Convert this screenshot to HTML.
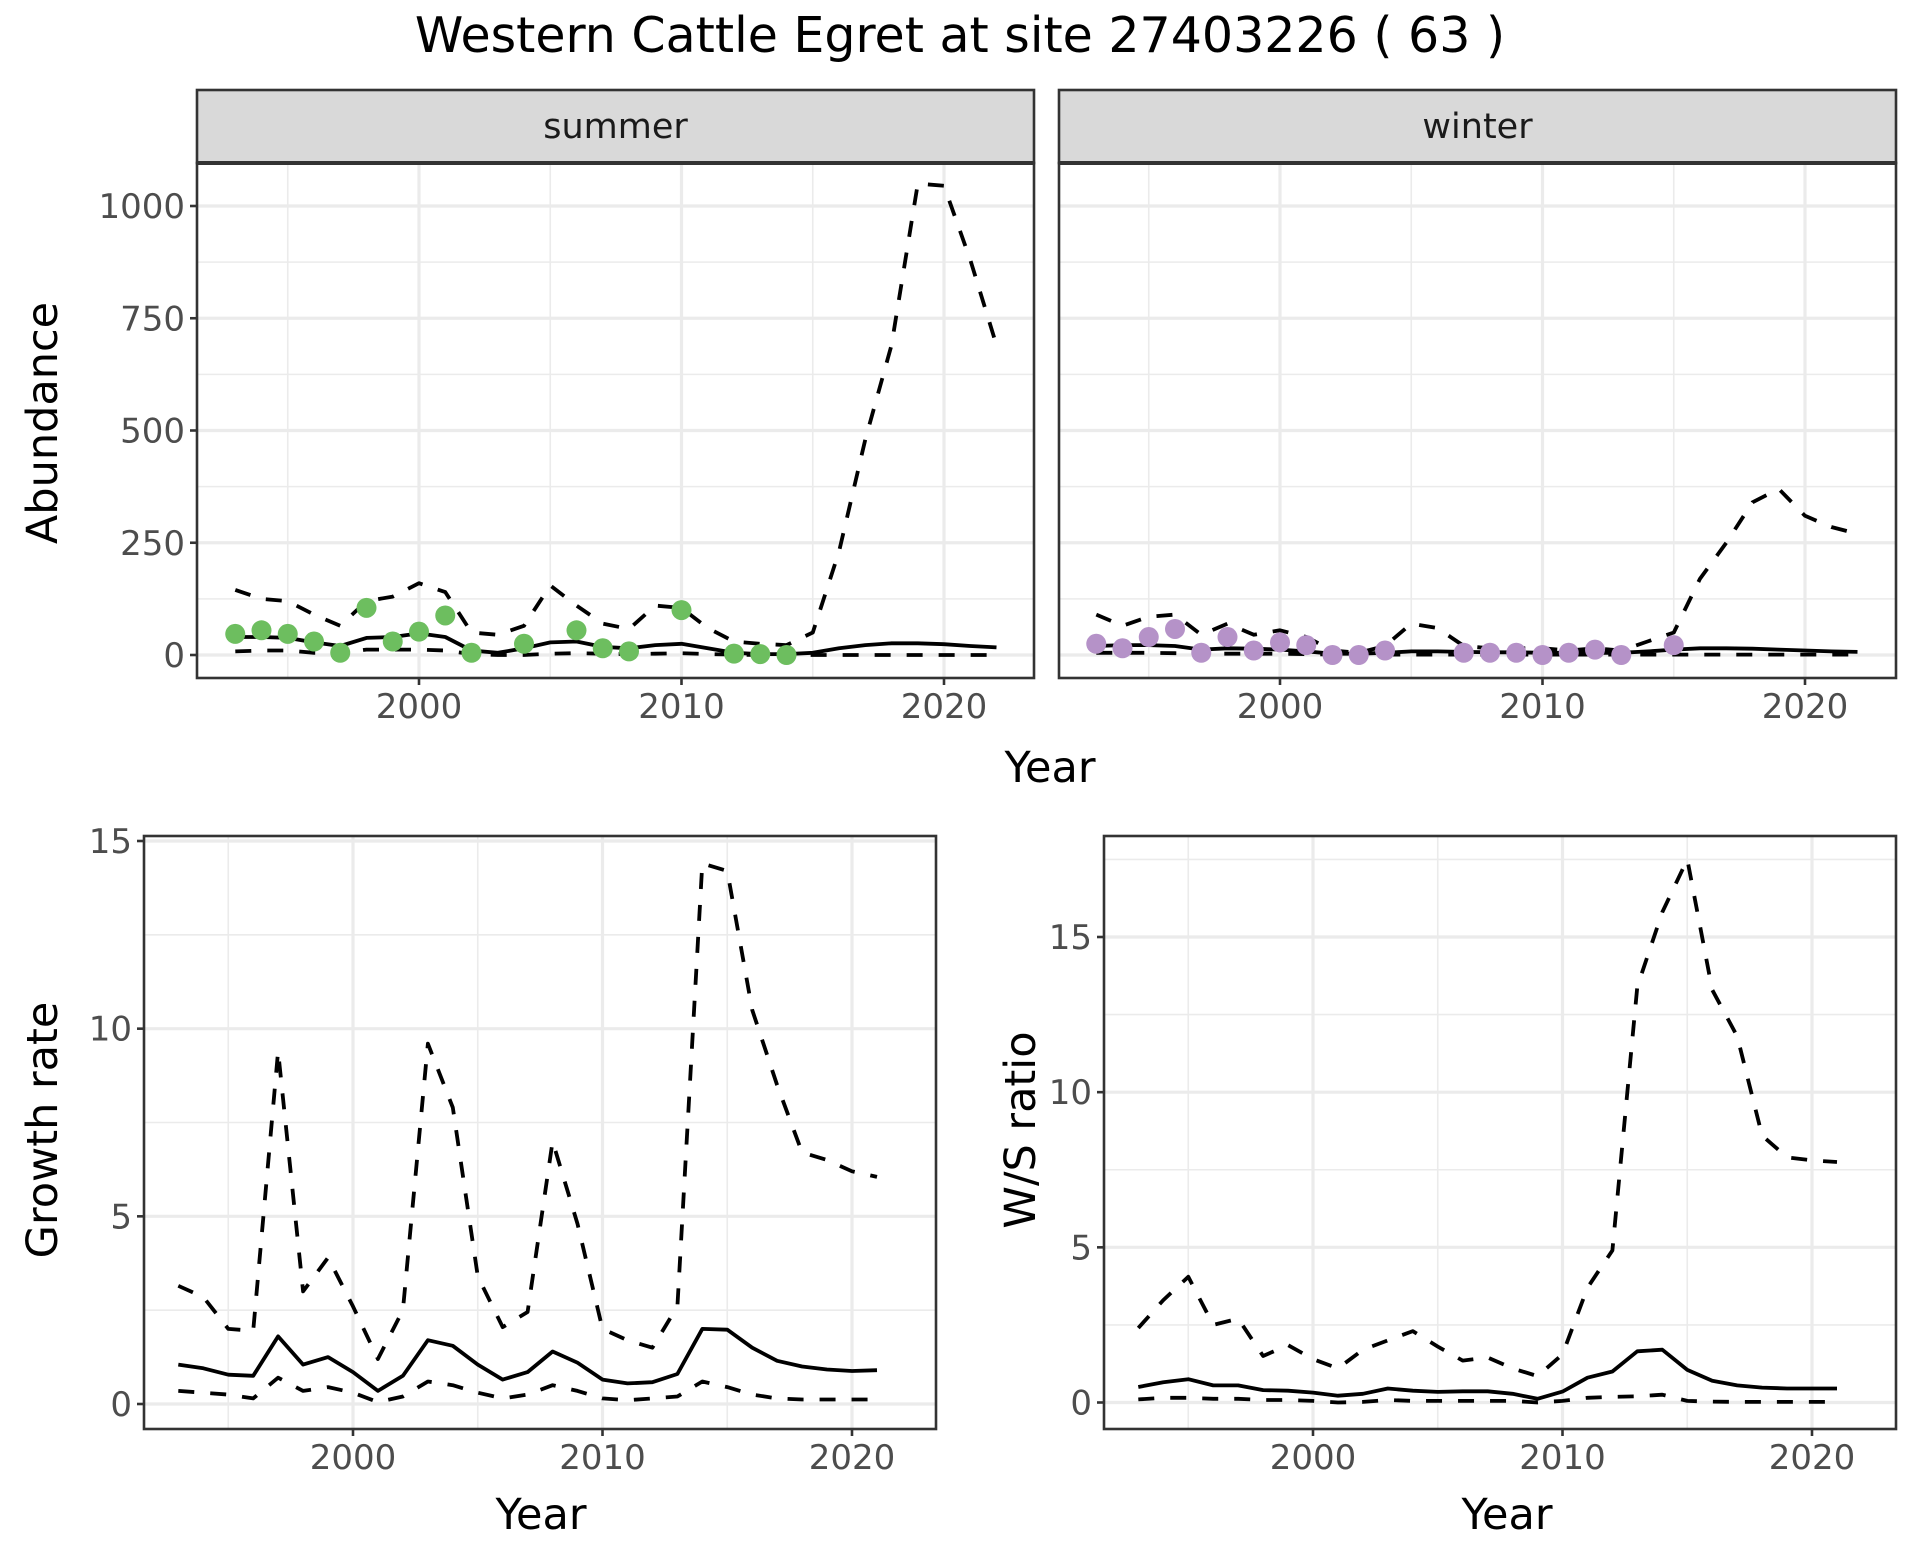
<!DOCTYPE html>
<html><head><meta charset="utf-8"><style>
html,body{margin:0;padding:0;background:#fff}
svg{display:block;font-family:"DejaVu Sans","Liberation Sans",sans-serif}
</style></head><body>
<svg id="c" width="1920" height="1560" viewBox="0 0 1920 1560" xmlns="http://www.w3.org/2000/svg">
<text x="960" y="52" text-anchor="middle" font-size="49" fill="#000">Western Cattle Egret at site 27403226 ( 63 )</text>
</svg>
<script>
const years = [1993,1994,1995,1996,1997,1998,1999,2000,2001,2002,2003,2004,2005,2006,2007,2008,2009,2010,2011,2012,2013,2014,2015,2016,2017,2018,2019,2020,2021,2022];
const summerMid = [40,40,38,28,20,38,40,48,40,10,5,15,28,30,18,15,22,25,15,5,2,2,5,15,22,26,26,24,20,17];
const summerHi = [145,125,120,90,65,120,130,160,140,50,45,65,155,110,70,58,110,105,60,30,25,22,50,230,480,690,1050,1045,880,690];
const summerLo = [8,10,10,5,5,12,12,12,10,2,0,0,3,4,3,2,3,4,2,1,0,0,0,0,0,0,0,0,0,0];
const summerObsYears = [1993,1994,1995,1996,1997,1998,1999,2000,2001,2002,2004,2006,2007,2008,2010,2012,2013,2014];
const summerObs = [47,55,47,30,5,105,30,52,88,5,25,55,15,8,100,3,2,0];
const winterMid = [20,22,22,20,12,15,14,12,8,3,3,5,8,8,7,6,6,5,5,5,5,8,12,15,15,14,12,10,8,7];
const winterHi = [90,65,85,90,45,70,45,55,40,10,5,20,70,60,20,15,15,15,10,15,10,30,50,170,250,340,370,310,285,270];
const winterLo = [5,5,5,4,3,3,3,3,2,1,1,1,1,1,1,1,1,1,1,1,1,1,1,1,1,1,1,1,1,1];
const winterObsYears = [1993,1994,1995,1996,1997,1998,1999,2000,2001,2002,2003,2004,2007,2008,2009,2010,2011,2012,2013,2015];
const winterObs = [25,15,40,58,5,40,10,28,22,0,0,10,5,5,5,0,5,12,0,22];
const gYears = [1993,1994,1995,1996,1997,1998,1999,2000,2001,2002,2003,2004,2005,2006,2007,2008,2009,2010,2011,2012,2013,2014,2015,2016,2017,2018,2019,2020,2021];
const growthMid = [1.05,0.95,0.78,0.75,1.8,1.05,1.25,0.85,0.35,0.75,1.7,1.55,1.05,0.65,0.85,1.4,1.1,0.65,0.55,0.58,0.8,2.0,1.98,1.5,1.15,1.0,0.92,0.88,0.9];
const growthHi = [3.15,2.85,2.0,1.95,9.4,3.0,3.9,2.6,1.2,2.5,9.6,7.9,3.4,2.05,2.45,7.0,4.8,2.0,1.7,1.5,2.6,14.4,14.2,10.5,8.5,6.7,6.5,6.2,6.05];
const growthLo = [0.35,0.3,0.25,0.15,0.7,0.35,0.45,0.3,0.05,0.2,0.6,0.5,0.3,0.15,0.25,0.5,0.35,0.15,0.1,0.15,0.2,0.6,0.45,0.25,0.15,0.12,0.12,0.12,0.12];
const ratioMid = [0.5,0.65,0.75,0.55,0.55,0.4,0.38,0.32,0.22,0.28,0.45,0.38,0.34,0.36,0.36,0.28,0.12,0.35,0.8,1.0,1.65,1.7,1.05,0.7,0.55,0.48,0.45,0.45,0.45];
const ratioHi = [2.4,3.3,4.05,2.5,2.7,1.5,1.85,1.4,1.1,1.7,2.0,2.3,1.8,1.35,1.45,1.1,0.85,1.55,3.7,4.9,13.4,15.8,17.5,13.3,11.8,8.6,7.9,7.8,7.75];
const ratioLo = [0.1,0.15,0.15,0.12,0.12,0.08,0.08,0.05,0.0,0.02,0.08,0.05,0.05,0.05,0.05,0.05,0.0,0.05,0.15,0.18,0.2,0.25,0.05,0.03,0.02,0.02,0.02,0.02,0.02];
const xTicks = [2000,2010,2020];
const xMinor = [1995,2005,2015];
const abundTicks = [0,250,500,750,1000];
const abundMinor = [125,375,625,875];
const growthTicks = [0,5,10,15];
const growthMinor = [2.5,7.5,12.5];
const ratioTicks = [0,5,10,15];
const ratioMinor = [2.5,7.5,12.5,17.5];

const svg = document.getElementById('c');
const NS = 'http://www.w3.org/2000/svg';
function mk(tag, attrs, parent){
  const e = document.createElementNS(NS, tag);
  for (const k in attrs) e.setAttribute(k, attrs[k]);
  (parent||svg).appendChild(e);
  return e;
}
function lin(d0,d1,r0,r1){ return v => r0 + (v-d0)*(r1-r0)/(d1-d0); }

function panel(o){
  const g = mk('g', {});
  
  
  const x = lin(2000, 2010, o.x2000, o.x2010);
  const y = lin(0, o.yRefVal, o.y0, o.yRefPx);
  mk('rect', {x:o.L, y:o.T, width:o.R-o.L, height:o.B-o.T, fill:'#fff'}, g);
  o.yMinor.forEach(v => mk('line', {x1:o.L, x2:o.R, y1:y(v), y2:y(v), stroke:'#ebebeb', 'stroke-width':1.6}, g));
  xMinor.forEach(v => mk('line', {x1:x(v), x2:x(v), y1:o.T, y2:o.B, stroke:'#ebebeb', 'stroke-width':1.6}, g));
  o.yTicks.forEach(v => mk('line', {x1:o.L, x2:o.R, y1:y(v), y2:y(v), stroke:'#ebebeb', 'stroke-width':3.2}, g));
  xTicks.forEach(v => mk('line', {x1:x(v), x2:x(v), y1:o.T, y2:o.B, stroke:'#ebebeb', 'stroke-width':3.2}, g));
  function path(xs, vs, dashed, nm){
    const d = xs.map((yr,i)=>(i?'L':'M')+x(yr).toFixed(1)+','+y(vs[i]).toFixed(1)).join('');
    const p = mk('path', {d:d, fill:'none', stroke:'#000', 'stroke-width':3.8, 'stroke-linejoin':'round'}, g);
    if (dashed) p.setAttribute('stroke-dasharray','16 16');
    
    
  }
  path(o.xs, o.lo, true, 'lower-bound-line');
  path(o.xs, o.hi, true, 'upper-bound-line');
  path(o.xs, o.mid, false, 'estimate-line');
  if (o.obs){
    o.obsYears.forEach((yr,i)=>{
      const c = mk('circle', {cx:x(yr), cy:y(o.obs[i]), r:10, fill:o.color}, g);
      
      
    });
  }
  mk('rect', {x:o.L, y:o.T, width:o.R-o.L, height:o.B-o.T, fill:'none', stroke:'#333', 'stroke-width':2.6}, g);
  if (o.showY){
    o.yTicks.forEach(v => {
      mk('line', {x1:o.L-7, x2:o.L, y1:y(v), y2:y(v), stroke:'#333', 'stroke-width':2.6}, g);
      const t = mk('text', {x:o.L-12, y:y(v)+12, 'text-anchor':'end', 'font-size':34, fill:'#4d4d4d'}, g);
      t.textContent = v;
      
      
    });
  }
  xTicks.forEach(v => {
    mk('line', {x1:x(v), x2:x(v), y1:o.B, y2:o.B+7, stroke:'#333', 'stroke-width':2.6}, g);
    const t = mk('text', {x:x(v), y:o.B+40, 'text-anchor':'middle', 'font-size':34, fill:'#4d4d4d'}, g);
    t.textContent = v;
    
    
  });
  if (o.strip){
    const s = mk('rect', {x:o.L, y:90, width:o.R-o.L, height:73, fill:'#d9d9d9', stroke:'#333', 'stroke-width':2.6}, g);
    
    
    mk('line', {x1:o.L, x2:o.R, y1:163, y2:163, stroke:'#333', 'stroke-width':4}, g);
    const t = mk('text', {x:(o.L+o.R)/2, y:138, 'text-anchor':'middle', 'font-size':35, fill:'#1a1a1a'}, g);
    t.textContent = o.strip;
    
    
  }
}

panel({name:'summer-panel', L:197, R:1034, T:163, B:678, x2000:419, x2010:681.5, y0:655, yRefVal:1000, yRefPx:206,
  yTicks:abundTicks, yMinor:abundMinor, xs:years, mid:summerMid, hi:summerHi, lo:summerLo,
  obs:summerObs, obsYears:summerObsYears, color:'#6dbe5f', showY:true, strip:'summer'});
panel({name:'winter-panel', L:1059, R:1896, T:163, B:678, x2000:1280, x2010:1542.5, y0:655, yRefVal:1000, yRefPx:206,
  yTicks:abundTicks, yMinor:abundMinor, xs:years, mid:winterMid, hi:winterHi, lo:winterLo,
  obs:winterObs, obsYears:winterObsYears, color:'#b592c8', showY:false, strip:'winter'});
panel({name:'growth-rate-panel', L:144, R:936, T:836, B:1429, x2000:353, x2010:602.5, y0:1404, yRefVal:15, yRefPx:841,
  yTicks:growthTicks, yMinor:growthMinor, xs:gYears, mid:growthMid, hi:growthHi, lo:growthLo, showY:true});
panel({name:'ws-ratio-panel', L:1104, R:1896, T:836, B:1429, x2000:1313, x2010:1562.5, y0:1402.5, yRefVal:15, yRefPx:937,
  yTicks:ratioTicks, yMinor:ratioMinor, xs:gYears, mid:ratioMid, hi:ratioHi, lo:ratioLo, showY:true});

function label(txt, x, y, rot, nm){
  const t = mk('text', {x:x, y:y, 'text-anchor':'middle', 'font-size':43, fill:'#000'});
  if (rot) t.setAttribute('transform', 'rotate(-90 '+x+' '+y+')');
  t.textContent = txt;
  
  
}
label('Year', 1050, 782, false, 'x-axis-title-top');
label('Abundance', 57, 423, true, 'y-axis-title-abundance');
label('Year', 541, 1529, false, 'x-axis-title-growth');
label('Growth rate', 57, 1130, true, 'y-axis-title-growth');
label('Year', 1507, 1529, false, 'x-axis-title-ratio');
label('W/S ratio', 1035, 1130, true, 'y-axis-title-ratio');
</script>
</body></html>
